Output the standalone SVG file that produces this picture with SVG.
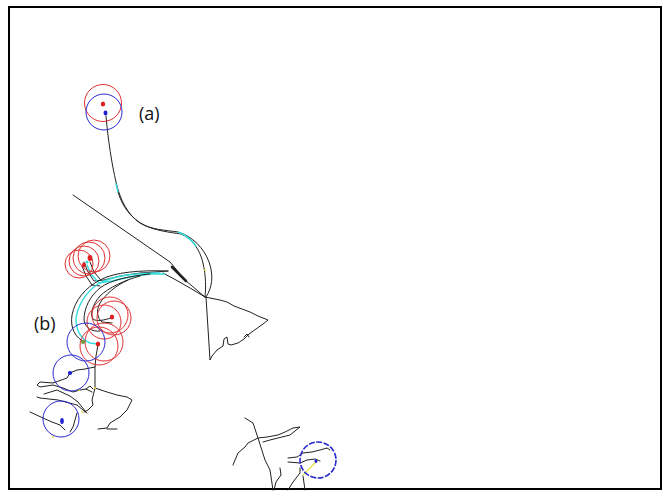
<svg xmlns="http://www.w3.org/2000/svg" width="663" height="491" viewBox="0 0 663 491">
<style>
.frame{fill:none;stroke:#000;stroke-width:2}
.tr{fill:none;stroke:#222;stroke-width:1;stroke-linejoin:round;stroke-linecap:round}
.cy{fill:none;stroke:#33dddd;stroke-width:1.4;stroke-linecap:round}
.rc{fill:none;stroke:#e03030;stroke-width:1}
.bc{fill:none;stroke:#2a2ad0;stroke-width:1}
.rd{fill:#e02020}
.bd{fill:#2020d0}
.yl{fill:none;stroke:#e8e040;stroke-width:1.2}
.yd{fill:#e8e040}
.lbl{font-family:"Open Sans","Liberation Sans",sans-serif;font-size:18px;fill:#111}
</style>
<rect class="frame" x="9" y="7" width="652" height="482"/>

<g id="tracks">
  <!-- trajectory (a) -->
  <path class="tr" d="M106,116 C108,140 112,165 116,182 C120,200 128,215 140,223 C152,230 165,230 178,232 C192,236 204,248 209,262 C214,276 212,288 206,297"/>
  <path class="tr" d="M118,192 C122,206 131,219 146,226 C158,231 168,232 181,234 C192,238 200,250 203,263 C206,276 206,288 205,297"/>
  <path class="cy" d="M178,232 C186,235 192,240 196,246"/>
  <path class="cy" d="M116,184 L118,192"/>
  <!-- diagonal -->
  <path class="tr" d="M73,195 L170,262 L185,280 L205,297"/>
  <path class="tr" style="stroke-width:2.6" d="M172,267 L186,281"/>
  <path class="tr" d="M163,273 L176,280 L190,288 L205,297"/>
  <!-- tail -->
  <path class="tr" d="M205,297 L220,300 L227,302 L234,306 L250,312 L258,316 L268,320 L263,324 L256,329 L249,334 L244,339 L238,343 L231,345 L228,344 L227,337 L224,339 L223,346 L217,350 L212,356 L210,360 L206,297"/>
  <path class="tr" d="M244,337 L247,334 L249,337"/>

  <!-- (b) bundle from upper cluster -->
  <path class="tr" d="M84,262 L88,272 L94,281 L104,280 L120,276 L140,273 L155,272 L168,271"/>
  <path class="cy" d="M87,265 L91,274 L99,283 L112,281 L130,277 L150,274 L165,274"/>
  <path class="tr" d="M82,266 L86,276 L92,285 L100,286"/>
  <path class="tr" d="M90,262 L94,272 L100,279"/>
  <!-- S-curves into lower cluster -->
  <path class="tr" d="M168,271 C140,270 115,272 100,280 C85,288 75,300 72,315 C70,328 75,338 85,342"/>
  <path class="cy" d="M160,273 C135,273 112,276 98,284 C86,292 78,305 76,318 C76,330 81,339 90,343 L98,344"/>
  <path class="tr" d="M150,274 C130,276 110,280 100,288 C90,296 84,308 84,320 C85,328 92,332 100,331"/>
  <path class="tr" d="M140,276 C125,280 108,288 100,296 C92,305 90,315 93,319 C97,322 104,320 111,318"/>
  <path class="tr" d="M128,280 C115,286 106,294 100,303 C96,310 97,318 102,322 L112,323"/>

  <!-- lower-left scribbles -->
  <path class="tr" d="M98,345 L96,356 L95,367 L85,369 L77,370 L70,373"/>
  <path class="tr" d="M70,373 L67,378 L53,383 L40,382 L37,385 L40,387 L53,385 L63,388 L73,392 L80,390 L86,389 L92,392"/>
  <path class="tr" d="M95,367 L95,388 L92,400 L93,405 L88,410 L84,412"/>
  <path class="tr" d="M37,397 L40,398 L58,400 L77,405 L83,410 L87,413"/>
  <path class="tr" d="M44,394 L57,390 L70,396 L78,402 L86,412"/>
  <path class="tr" d="M95,388 L107,392 L117,395 L127,397 L132,400 L127,410 L120,417 L110,423 L107,428 L98,429 M107,429 L117,429"/>
  <path class="tr" d="M30,412 L43,418 L52,422 L60,425 L65,430"/>
  <path class="tr" d="M77,413 L75,420 L73,427 L70,432"/>
  <path class="tr" d="M86,389 L90,386 L93,389"/>

  <!-- bottom scribbles -->
  <path class="tr" d="M233,465 L238,453 L245,447 L248,443 L258,438 L267,437 L278,435 L285,432 L293,428 L300,427 L290,435 L278,438 L270,440 L263,442"/>
  <path class="tr" d="M245,418 L253,423 L258,438 L265,460 L270,470 L273,490"/>
  <path class="tr" d="M280,468 L281,475 L276,482 L274,490"/>
  <path class="tr" d="M288,458 L297,457 L303,453 L312,452 L320,450 L327,448 L330,450"/>
  <path class="tr" d="M288,462 L300,463 L307,460 L315,459 L320,461"/>
  <path class="tr" d="M300,468 L300,473 L293,482 L288,490"/>
  <path class="tr" d="M303,476 L305,490"/>
  <path class="yl" d="M303,475 L318,460"/>
  <circle class="yd" cx="95" cy="388" r="1"/>
  <circle class="yd" cx="79" cy="390" r="1"/>
  <circle class="yd" cx="82" cy="412" r="1"/>
  <circle class="yd" cx="53" cy="437" r="1"/>
  <circle class="yd" cx="205" cy="270" r="1"/>
</g>

<g id="node-a">
  <circle class="rc" cx="103" cy="103" r="18.5"/>
  <circle class="bc" cx="104" cy="112" r="18"/>
  <ellipse class="rd" cx="103" cy="104" rx="2.2" ry="2.6"/>
  <ellipse class="bd" cx="105.5" cy="113" rx="2" ry="2.4"/>
  <text class="lbl" x="139" y="120">(a)</text>
</g>

<g id="node-b-upper">
  <circle class="rc" cx="79" cy="264" r="14"/>
  <circle class="rc" cx="84" cy="261" r="15"/>
  <circle class="rc" cx="89" cy="258" r="16"/>
  <circle class="rc" cx="94" cy="256" r="16"/>
  <ellipse class="rd" cx="90" cy="258" rx="2.4" ry="3"/>
  <ellipse class="rd" cx="84" cy="265" rx="2" ry="2.4"/>
  <ellipse fill="#33dddd" cx="87" cy="262" rx="1.5" ry="1.5"/>
</g>

<g id="node-b-lower">
  <circle class="rc" cx="110" cy="315" r="18"/>
  <circle class="rc" cx="114" cy="318" r="17"/>
  <circle class="rc" cx="104" cy="322" r="17"/>
  <circle class="rc" cx="99" cy="346" r="19"/>
  <circle class="rc" cx="104" cy="342" r="19"/>
  <circle class="bc" cx="86" cy="342" r="19"/>
  <ellipse class="rd" cx="112" cy="317" rx="2.2" ry="2.6"/>
  <ellipse class="rd" cx="98" cy="344" rx="2.2" ry="2.6"/>
  <ellipse fill="#6a9a3a" cx="83" cy="342" rx="2" ry="2"/>
  <text class="lbl" x="34" y="330">(b)</text>
</g>

<g id="node-c">
  <circle class="bc" cx="71" cy="373" r="18"/>
  <ellipse class="bd" cx="70" cy="373" rx="2.2" ry="2"/>
</g>

<g id="node-d">
  <circle class="bc" cx="61" cy="419" r="18"/>
  <ellipse class="bd" cx="62" cy="421" rx="1.8" ry="3"/>
</g>

<g id="node-e">
  <circle class="bc" cx="318" cy="460" r="18" style="stroke-width:1.6;stroke-dasharray:6 1.5"/>
  <ellipse class="bd" cx="316" cy="461" rx="1.5" ry="2"/>
</g>
</svg>
